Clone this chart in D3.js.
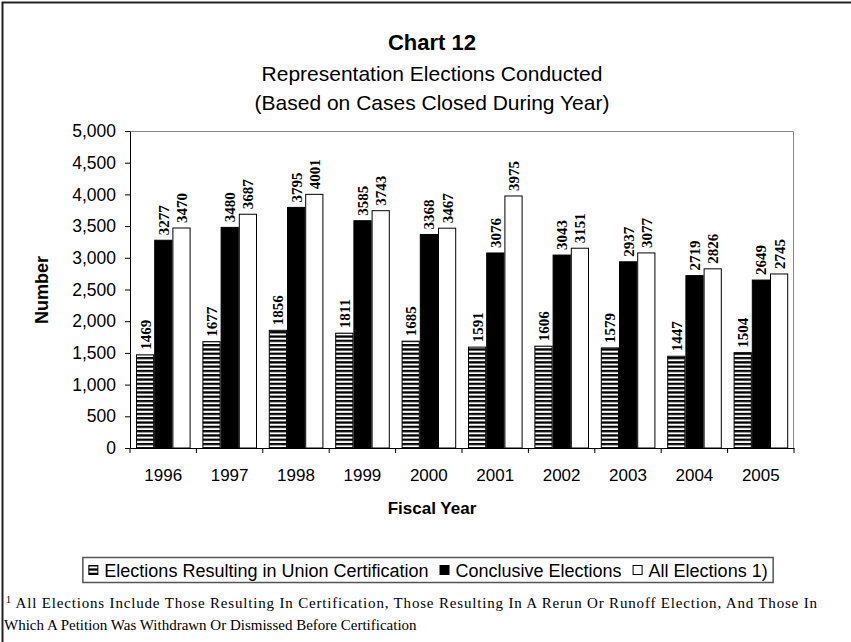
<!DOCTYPE html>
<html>
<head>
<meta charset="utf-8">
<script src="https://cdn.jsdelivr.net/npm/d3@7/dist/d3.min.js"></script>
<style>
  html, body { margin: 0; padding: 0; background: #fff; }
  svg { display: block; }
</style>
</head>
<body>
<svg id="chart" width="851" height="642"></svg>
<script>
const years = ["1996","1997","1998","1999","2000","2001","2002","2003","2004","2005"];
const certification = [1469,1677,1856,1811,1685,1591,1606,1579,1447,1504];
const conclusive = [3277,3480,3795,3585,3368,3076,3043,2937,2719,2649];
const allElections = [3470,3687,4001,3743,3467,3975,3151,3077,2826,2745];
const seriesNames = ["Elections Resulting in Union Certification","Conclusive Elections","All Elections 1)"];
const yTicks = [0,500,1000,1500,2000,2500,3000,3500,4000,4500,5000];

(function(){
const svg = d3.select("#chart");
const SANS = "'Liberation Sans', Arial, sans-serif";
const SERIF = "'Liberation Serif', 'Times New Roman', serif";

const defs = svg.append("defs");
const pat = defs.append("pattern").attr("id","stripes").attr("patternUnits","userSpaceOnUse")
  .attr("width",8).attr("height",4.3);
pat.append("rect").attr("width",8).attr("height",4.3).attr("fill","#fff");
pat.append("rect").attr("y",0).attr("width",8).attr("height",2.3).attr("fill","#000");

svg.append("path").attr("d","M2.5,642 L2.5,2.5 L851,2.5").attr("fill","none").attr("stroke","#222").attr("stroke-width",2);

const pLeft = 130, pRight = 794, pTop = 131, pBottom = 448;
const x = d3.scaleBand().domain(years).range([pLeft,pRight]).paddingInner(0).paddingOuter(0);
const y = d3.scaleLinear().domain([0,5000]).range([pBottom,pTop]);
const barW = 18.2;
const inner = d3.scaleBand().domain([0,1,2]).range([6, 6 + 3*barW]);

svg.append("path").attr("d",`M${pLeft},${pTop+0.5} L${pRight-0.5},${pTop+0.5} L${pRight-0.5},${pBottom}`)
  .attr("fill","none").attr("stroke","#888").attr("stroke-width",1);

const title = svg.append("text").attr("text-anchor","middle").attr("font-family",SANS).attr("fill","#000");
title.append("tspan").attr("x",432).attr("y",50).attr("font-size",22).attr("font-weight","bold").text("Chart 12");
title.append("tspan").attr("x",432).attr("y",81).attr("font-size",21).text("Representation Elections Conducted");
title.append("tspan").attr("x",432).attr("y",110).attr("font-size",21).text("(Based on Cases Closed During Year)");

const series = [certification, conclusive, allElections];
const fills = ["url(#stripes)","#000","#fff"];
series.forEach((vals, si) => {
  const g = svg.append("g");
  g.selectAll("rect").data(years).join("rect")
    .attr("x", d => x(d) + inner(si) + 0.5)
    .attr("y", (d,i) => y(vals[i]))
    .attr("width", barW - 1)
    .attr("height", (d,i) => pBottom - y(vals[i]))
    .attr("fill", fills[si]).attr("stroke","#000").attr("stroke-width",1);
  g.selectAll("text").data(years).join("text")
    .attr("transform", (d,i) => `translate(${x(d)+inner(si)+barW/2+0.5},${y(vals[i])-5}) rotate(-90)`)
    .attr("font-family",SERIF).attr("font-weight","bold").attr("font-size",15)
    .attr("dominant-baseline","central").attr("text-anchor","start")
    .text((d,i) => vals[i]);
});

const yAxis = d3.axisLeft(y).tickValues(yTicks).tickSize(5).tickSizeOuter(0).tickFormat(d3.format(","));
const ya = svg.append("g").attr("transform",`translate(${pLeft},0)`).call(yAxis);
ya.selectAll("text").attr("font-family",SANS).attr("font-size",17.5).attr("fill","#000").attr("x",-14);
ya.selectAll("line,path").attr("stroke","#000");

const xAxis = d3.axisBottom(x).tickSize(0).tickSizeOuter(0);
const xa = svg.append("g").attr("transform",`translate(0,${pBottom})`).call(xAxis);
xa.selectAll("text").attr("font-family",SANS).attr("font-size",17).attr("fill","#000").attr("y",33).attr("dy",0);
xa.selectAll("path").attr("stroke","#000");
svg.append("g").selectAll("line").data(years.concat(["end"])).join("line")
  .attr("x1",(d,i)=> pLeft + i*x.bandwidth()).attr("x2",(d,i)=> pLeft + i*x.bandwidth())
  .attr("y1",pBottom).attr("y2",pBottom+5).attr("stroke","#000");

svg.append("text").attr("x",432).attr("y",514).attr("text-anchor","middle")
  .attr("font-family",SANS).attr("font-size",17).attr("font-weight","bold").text("Fiscal Year");
svg.append("text").attr("transform","translate(48,290) rotate(-90)").attr("text-anchor","middle")
  .attr("font-family",SANS).attr("font-size",18).attr("font-weight","bold").text("Number");

const legend = svg.append("g");
const lg = legend.append("g");
let cx = 0;
seriesNames.forEach((name, i) => {
  const item = lg.append("g").attr("transform",`translate(${cx},0)`);
  item.append("rect").attr("x",0.5).attr("y",-11.5).attr("width",9).attr("height",9)
    .attr("fill",fills[i]).attr("stroke","#000");
  const t = item.append("text").attr("x",16).attr("y",0).attr("font-family",SANS).attr("font-size",18).text(name);
  cx += 16 + t.node().getComputedTextLength() + 11;
});
const lw = cx - 11;
const lx = 428 - lw/2;
lg.attr("transform",`translate(${lx},577)`);
legend.insert("rect",":first-child").attr("x",lx-5.5).attr("y",557.5).attr("width",lw+11).attr("height",25)
  .attr("fill","#fff").attr("stroke","#555").attr("stroke-width",1.5);

const fn = svg.append("text").attr("font-family",SERIF).attr("font-size",15).attr("fill","#000")
  .attr("x",6).attr("y",608).attr("textLength",811).attr("lengthAdjust","spacing");
fn.append("tspan").attr("font-size",10).attr("dy",-5).text("1");
fn.append("tspan").attr("dy",5).text(" All Elections Include Those Resulting In Certification, Those Resulting In A Rerun Or Runoff Election, And Those In");
svg.append("text").attr("x",4).attr("y",630).attr("font-family",SERIF).attr("font-size",15)
  .text("Which A Petition Was Withdrawn Or Dismissed Before Certification");
})();
</script>
</body>
</html>
